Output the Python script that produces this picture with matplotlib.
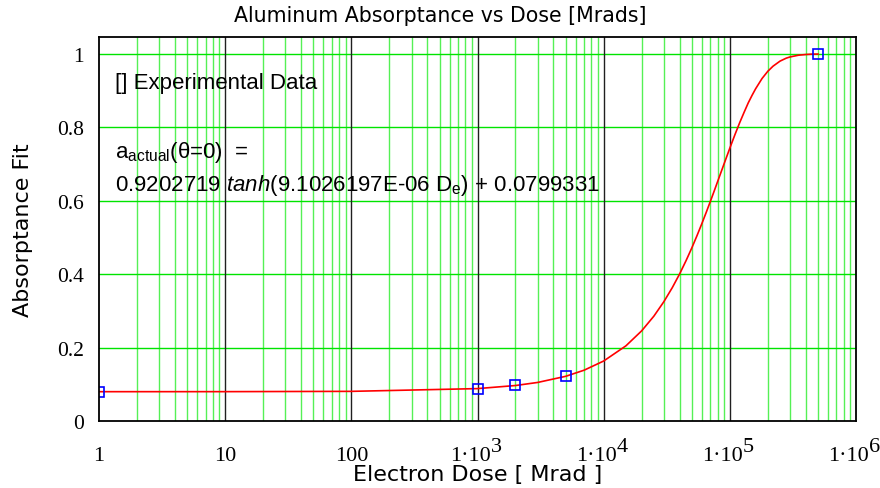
import numpy as np
import matplotlib.pyplot as plt
from matplotlib.ticker import FixedLocator, NullFormatter
from matplotlib.transforms import offset_copy

plt.rcParams['mathtext.fontset'] = 'custom'
plt.rcParams['mathtext.rm'] = 'Liberation Sans'
plt.rcParams['mathtext.it'] = 'Liberation Sans:italic'

# datos experimentales
dosis_exp = [1, 1000, 2000, 5000, 500000]
abs_exp = [0.080, 0.088, 0.097, 0.122, 1.000]

# curva de ajuste
dosis_fit = [1, 10, 100, 1000, 2000, 3000, 5000, 7000, 10000, 15000, 20000, 25000,
             30000, 35000, 40000, 45000, 50000, 55000, 60000, 65000, 70000, 75000,
             80000, 90000, 100000, 110000, 120000, 130000, 140000, 150000, 160000,
             180000, 200000, 220000, 250000, 280000, 300000, 350000, 400000, 450000, 500000]
abs_fit = [0.0799, 0.0800, 0.0808, 0.0883, 0.0967, 0.1051, 0.1218, 0.1385, 0.1635,
           0.2048, 0.2457, 0.2858, 0.3252, 0.3636, 0.4009, 0.4372, 0.4720, 0.5057,
           0.5379, 0.5687, 0.5980, 0.6259, 0.6525, 0.7008, 0.7438, 0.7813, 0.8140,
           0.8421, 0.8672, 0.8876, 0.9054, 0.9335, 0.9532, 0.9671, 0.9809, 0.9890,
           0.9923, 0.9970, 0.9989, 1.0000, 1.0001]

xticks = [1, 10, 100, 1e3, 1e4, 1e5, 1e6]
xbase = ['1', '10', '100', '1·10', '1·10', '1·10', '1·10']
xexp = ['', '', '', '3', '4', '5', '6']
yticks = [0, 0.2, 0.4, 0.6, 0.8, 1]
ylabels = ['0', '0.2', '0.4', '0.6', '0.8', '1']

fig = plt.figure(figsize=(8.8, 4.89), dpi=100)
ax = fig.add_axes([99/880, 1-422/489, (856-99)/880, (422-37.5)/489])

ax.set_xscale('log')
ax.set_xlim(1, 1e6)
ax.set_ylim(0, 1.048)

# rejilla
minors = [m * 10**k for k in range(6) for m in range(2, 10)]
for x in minors:
    ax.axvline(x, color='#55f055', lw=1, zorder=1)
for x in xticks[1:-1]:
    ax.axvline(x, color='#202020', lw=1, zorder=1.5)
for y in yticks[1:]:
    ax.axhline(y, color='#00e400', lw=1, zorder=1.2)

ax.plot(dosis_fit, abs_fit, color='red', lw=1.2, zorder=3)
ax.plot(dosis_exp, abs_exp, 's', mfc='none', mec='blue', ms=7, mew=1.2, zorder=4)

ax.xaxis.set_major_locator(FixedLocator(xticks))
ax.xaxis.set_minor_locator(FixedLocator(minors))
ax.xaxis.set_major_formatter(NullFormatter())
ax.xaxis.set_minor_formatter(NullFormatter())
ax.set_yticks(yticks)
ax.set_yticklabels(ylabels, fontfamily='Liberation Serif', fontsize=15.5)
ax.tick_params(which='both', length=0)
ax.tick_params(axis='y', pad=11)
for s in ax.spines.values():
    s.set_linewidth(1.3)
    s.set_zorder(5)

# etiquetas del eje x: base y exponente del mismo tamaño, como el original
tr = ax.get_xaxis_transform()
for xt, b, e in zip(xticks, xbase, xexp):
    if e == '':
        ax.text(xt, 0, b, transform=offset_copy(tr, fig=fig, x=0, y=-39, units='dots'),
                ha='center', va='baseline', fontfamily='Liberation Serif', fontsize=16, clip_on=False)
    else:
        ax.text(xt, 0, b, transform=offset_copy(tr, fig=fig, x=13, y=-39, units='dots'),
                ha='right', va='baseline', fontfamily='Liberation Serif', fontsize=16, clip_on=False)
        ax.text(xt, 0, e, transform=offset_copy(tr, fig=fig, x=13, y=-30, units='dots'),
                ha='left', va='baseline', fontfamily='Liberation Serif', fontsize=16, clip_on=False)

fig.text(0.5, 1-16/489, 'Aluminum Absorptance vs Dose [Mrads]', ha='center', va='center',
         fontfamily='DejaVu Sans', fontsize=14.8)
fig.text((99+856)/2/880, 1-481/489, 'Electron Dose [ Mrad ]', ha='center', va='baseline',
         fontfamily='DejaVu Sans', fontsize=16)
ax.set_ylabel('Absorptance Fit', fontfamily='DejaVu Sans', fontsize=16, labelpad=17)

ax.text(115/880, 1-84/489, '[] Experimental Data', fontfamily='Liberation Sans', fontsize=16,
        va='center', transform=fig.transFigure)
ax.text(115/880, 1-153/489, r'a$\mathregular{_{actual}}$(θ=0)  =', fontfamily='Liberation Sans',
        fontsize=16, va='center', transform=fig.transFigure)
ax.text(115/880, 1-186/489, r'0.9202719 $\mathit{tanh}$(9.1026197E-06 D$\mathregular{_{e}}$) + 0.0799331',
        fontfamily='Liberation Sans', fontsize=16, va='center', transform=fig.transFigure)

fig.savefig('out.png', dpi=100)
